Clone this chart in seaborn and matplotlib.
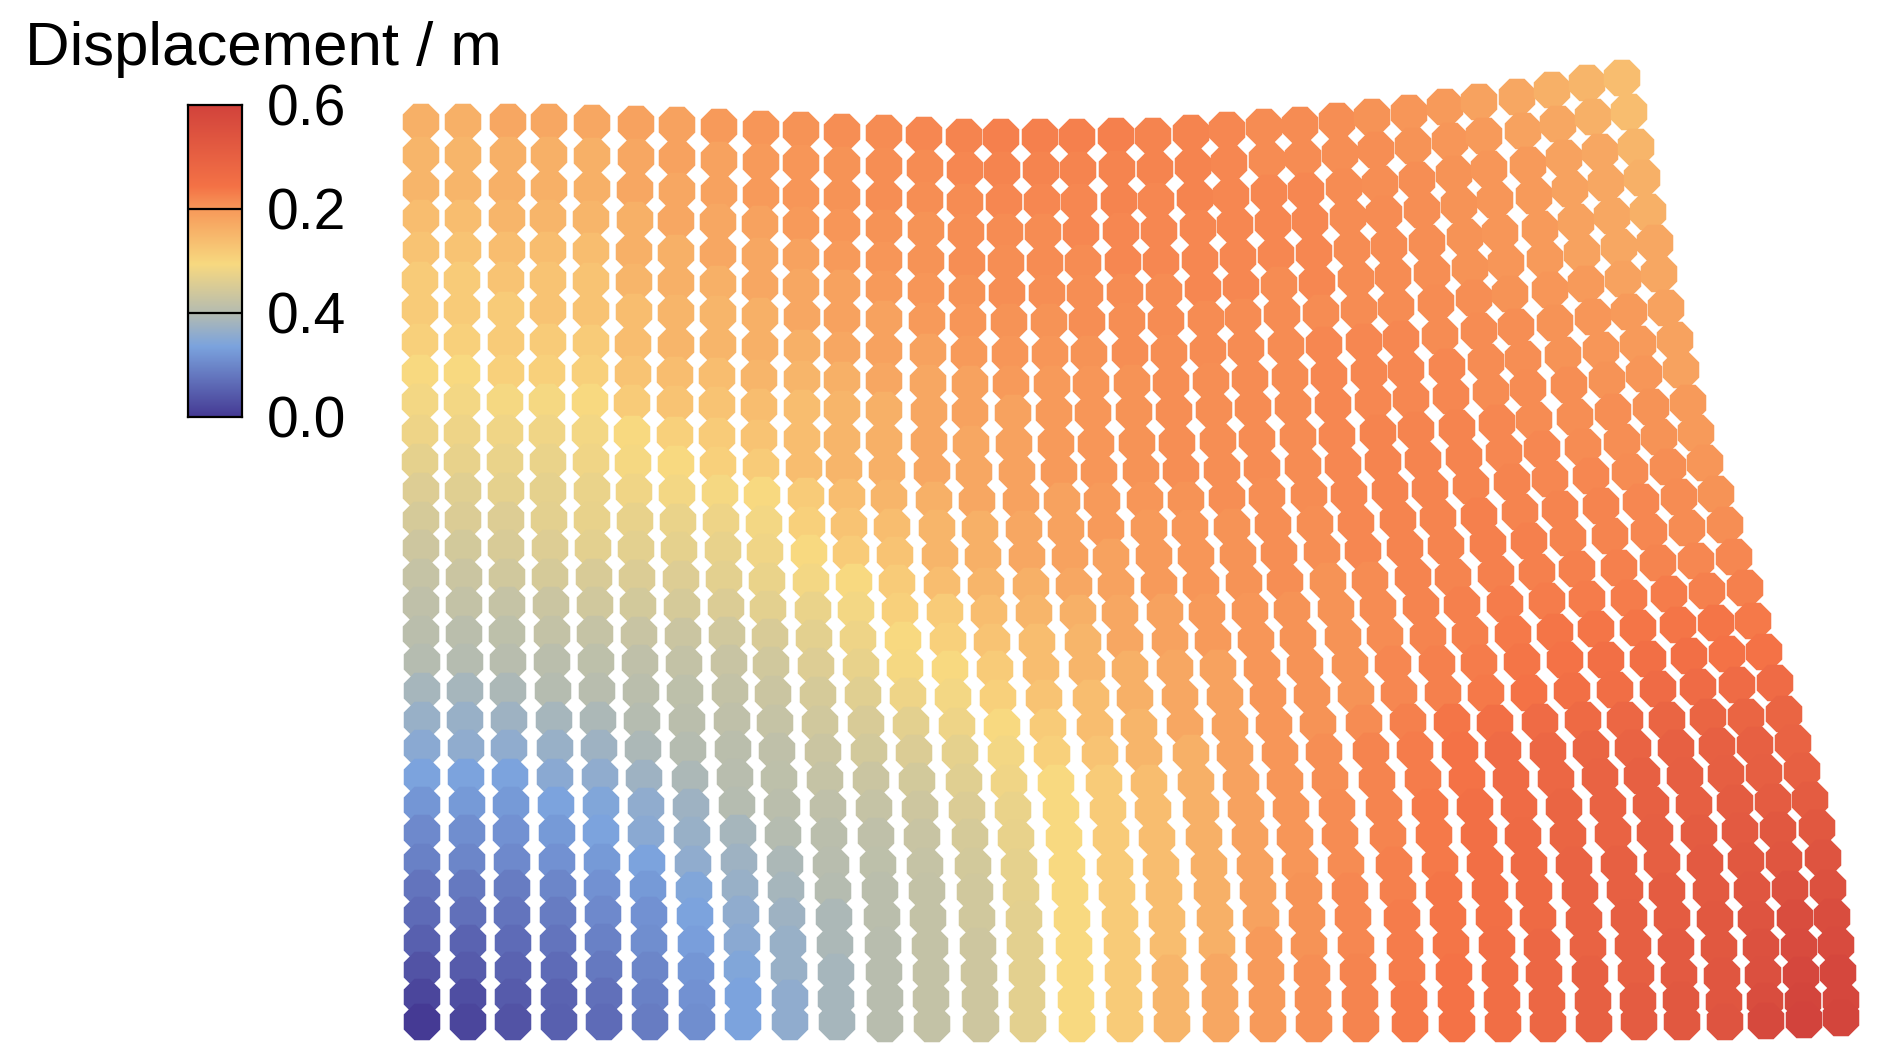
import matplotlib.pyplot as plt
from matplotlib.colors import LinearSegmentedColormap
import seaborn as sns
import pandas as pd
import numpy as np

# grid nodes, one list per row, 32 columns
x_rows = [
[421,463,508,549,592,636,677,719,761,801,842,884,924,964,1001,1040,1077,1116,1153,1191,1227,1264,1300,1337,1372,1409,1445,1479,1517,1552,1587,1622],
[421,463,508,549,592,636,677,719,761,801,842,884,925,965,1002,1041,1078,1117,1155,1193,1229,1267,1303,1340,1376,1413,1450,1484,1523,1558,1593,1629],
[421,463,507,549,592,635,677,719,761,801,842,884,925,965,1004,1042,1079,1119,1156,1195,1231,1269,1306,1344,1380,1417,1454,1489,1528,1564,1600,1636],
[421,463,507,548,591,635,676,718,760,801,842,884,926,966,1005,1043,1081,1121,1159,1198,1235,1273,1310,1348,1384,1422,1459,1495,1534,1570,1606,1642],
[421,463,507,548,591,634,676,718,760,801,842,884,926,967,1006,1045,1083,1123,1161,1200,1238,1276,1314,1352,1389,1427,1465,1500,1540,1576,1612,1648],
[420,462,506,548,591,634,676,718,760,801,842,884,926,967,1007,1047,1085,1125,1164,1203,1241,1279,1317,1356,1393,1432,1470,1506,1545,1582,1619,1655],
[420,462,506,548,591,634,676,718,760,802,842,884,927,968,1009,1049,1087,1127,1166,1206,1243,1282,1321,1359,1396,1436,1474,1510,1550,1586,1623,1659],
[420,462,506,548,591,633,676,718,760,802,842,884,928,969,1010,1050,1089,1130,1169,1208,1246,1286,1324,1364,1401,1440,1479,1516,1555,1593,1629,1666],
[420,462,506,547,590,633,675,717,759,802,842,884,928,970,1011,1052,1091,1132,1171,1211,1250,1290,1329,1369,1406,1447,1486,1523,1563,1601,1638,1675],
[420,462,505,547,590,632,675,717,759,802,842,884,929,970,1013,1054,1093,1134,1174,1214,1253,1293,1333,1373,1411,1451,1491,1528,1569,1607,1644,1681],
[420,462,505,547,590,632,675,717,759,802,842,884,929,971,1014,1056,1096,1137,1177,1218,1257,1298,1337,1378,1416,1457,1497,1534,1575,1613,1651,1688],
[420,462,505,548,591,633,676,718,761,804,844,887,932,974,1017,1059,1099,1141,1181,1222,1262,1303,1343,1383,1423,1464,1504,1542,1583,1622,1659,1696],
[421,463,506,548,592,634,677,720,762,806,847,889,934,977,1021,1062,1102,1145,1186,1227,1267,1309,1349,1390,1430,1471,1512,1550,1591,1630,1668,1705],
[421,463,506,549,592,635,678,721,764,807,849,892,937,980,1024,1066,1106,1149,1190,1232,1273,1315,1356,1398,1438,1479,1520,1560,1601,1641,1679,1716],
[421,463,506,550,593,636,679,723,765,809,851,895,940,983,1027,1070,1111,1154,1196,1238,1279,1322,1363,1405,1446,1488,1529,1568,1610,1649,1687,1725],
[421,464,507,550,594,637,681,724,767,811,854,897,942,986,1031,1074,1116,1159,1201,1244,1285,1328,1370,1413,1453,1496,1537,1577,1619,1658,1696,1734],
[421,464,507,551,595,638,682,726,768,813,856,900,945,989,1034,1078,1120,1165,1207,1250,1292,1336,1378,1421,1462,1505,1547,1587,1629,1669,1707,1745],
[421,464,507,552,595,639,683,727,770,814,858,903,948,992,1037,1083,1125,1170,1213,1256,1298,1343,1385,1428,1470,1513,1555,1596,1638,1678,1716,1753],
[422,465,508,552,596,640,684,729,771,816,861,905,950,995,1041,1087,1130,1175,1218,1262,1305,1350,1393,1437,1479,1522,1565,1606,1648,1689,1727,1764],
[422,465,508,553,597,641,685,730,773,818,863,908,953,998,1044,1091,1135,1180,1225,1268,1312,1356,1399,1443,1486,1529,1572,1615,1658,1698,1737,1775],
[422,465,509,554,598,642,687,732,775,820,866,911,957,1002,1048,1095,1139,1185,1230,1274,1318,1364,1408,1452,1495,1540,1583,1625,1667,1708,1746,1784],
[422,466,509,555,599,643,688,733,777,823,869,914,960,1006,1052,1100,1144,1191,1235,1280,1324,1371,1415,1460,1503,1548,1591,1633,1676,1717,1755,1793],
[422,466,510,555,600,644,690,735,779,825,871,917,964,1009,1056,1104,1149,1196,1241,1285,1330,1377,1423,1467,1511,1556,1600,1642,1685,1726,1764,1802],
[422,467,511,556,601,646,691,737,782,828,874,920,967,1013,1061,1108,1153,1201,1246,1291,1337,1384,1430,1475,1519,1564,1608,1651,1694,1735,1773,1810],
[422,467,511,557,601,646,692,738,783,829,876,922,970,1016,1064,1111,1157,1204,1250,1295,1340,1388,1434,1479,1523,1568,1613,1655,1699,1740,1778,1817],
[422,467,512,557,602,647,693,739,785,831,878,925,973,1019,1067,1115,1161,1209,1255,1300,1346,1394,1440,1485,1529,1574,1619,1662,1705,1746,1784,1823],
[422,467,512,558,602,648,694,740,786,833,880,927,975,1021,1070,1117,1164,1212,1258,1304,1350,1398,1444,1490,1534,1580,1625,1667,1711,1752,1790,1828],
[422,468,512,558,603,649,695,741,787,834,882,928,977,1024,1072,1120,1167,1215,1261,1307,1353,1402,1448,1494,1538,1584,1629,1672,1715,1756,1795,1832],
[422,468,513,558,603,649,696,742,788,835,883,930,978,1025,1074,1122,1168,1217,1264,1309,1356,1405,1451,1497,1542,1588,1633,1676,1719,1761,1799,1836],
[422,468,513,559,604,650,696,742,789,836,884,931,979,1027,1075,1123,1170,1219,1266,1312,1358,1407,1454,1500,1544,1590,1636,1679,1722,1763,1801,1838],
[422,468,513,559,604,650,697,743,790,836,885,931,980,1027,1076,1124,1171,1220,1267,1313,1360,1409,1456,1502,1547,1593,1638,1681,1724,1765,1803,1841],
[422,468,513,559,604,650,697,743,790,837,885,932,981,1028,1077,1125,1172,1221,1268,1314,1361,1410,1457,1503,1548,1594,1639,1682,1725,1766,1804,1841],
]

y_rows = [
[122,122,122,122,123,124,125,127,129,130,132,133,135,137,137,137,137,136,136,133,130,127,125,121,117,113,107,102,97,90,83,78],
[155,155,155,155,156,157,158,160,162,163,165,166,168,170,170,170,170,169,169,166,163,160,158,154,150,146,141,136,131,124,117,112],
[188,188,188,188,189,190,191,193,195,196,197,198,200,202,202,202,202,201,201,198,196,193,191,187,184,180,174,169,165,158,152,147],
[218,218,218,218,219,220,221,222,224,225,227,228,230,232,232,232,232,231,231,228,225,223,221,217,214,210,205,200,196,189,183,178],
[250,250,250,250,251,252,253,254,256,257,259,260,261,263,263,263,263,262,262,260,257,255,253,249,246,243,237,233,229,222,216,212],
[280,280,280,280,281,282,283,284,286,287,288,289,291,293,293,293,293,292,292,289,287,285,283,279,276,273,268,263,259,253,247,243],
[310,310,310,310,311,312,313,314,316,317,318,319,321,322,322,322,322,321,321,319,317,314,313,310,307,303,298,294,290,284,279,274],
[342,342,342,342,343,344,345,345,347,348,350,351,352,354,354,354,354,353,353,351,348,346,345,342,339,336,331,327,323,317,312,308],
[373,373,373,373,373,374,375,376,378,379,380,381,383,384,384,384,384,383,383,381,379,377,376,373,370,367,362,359,355,350,344,340],
[402,402,402,402,402,403,404,405,407,408,409,410,412,413,413,413,413,412,412,410,408,406,405,402,399,396,392,388,385,380,374,370],
[433,433,433,433,433,434,435,436,438,439,440,441,442,444,444,444,444,443,443,441,439,437,436,433,430,428,423,420,417,412,407,403],
[462,462,462,462,462,463,464,465,467,468,469,470,471,472,472,472,472,471,471,470,468,466,465,462,460,457,453,449,447,442,437,433],
[491,491,491,491,491,492,493,493,495,496,497,498,500,501,501,501,501,500,500,498,496,495,494,491,489,486,482,479,476,472,467,463],
[520,520,520,520,520,521,522,522,524,525,526,527,528,529,529,529,529,528,528,527,525,524,523,520,518,516,512,509,506,502,497,494],
[548,548,548,548,548,549,550,550,552,553,554,555,556,557,557,557,557,556,556,555,553,552,551,548,546,544,541,538,536,532,528,525],
[577,577,577,577,577,578,579,579,581,582,582,583,585,586,586,586,586,585,585,583,582,581,580,577,577,574,572,569,568,563,561,557],
[605,605,605,605,605,606,607,607,609,610,610,611,612,613,613,613,613,612,612,611,610,609,608,606,605,604,601,599,598,594,591,588],
[634,634,634,634,634,635,636,635,637,638,639,640,641,642,642,642,642,641,641,640,638,637,636,636,635,634,632,629,628,625,623,621],
[662,662,662,662,662,663,664,663,665,666,667,668,669,669,669,669,669,668,668,668,666,665,664,664,663,662,660,660,659,656,654,652],
[691,691,691,691,691,692,693,692,694,695,695,696,697,698,698,698,698,697,697,696,695,694,693,693,693,693,691,690,689,687,685,683],
[720,720,720,720,720,721,722,721,723,724,724,725,726,727,727,727,727,726,726,725,724,723,722,722,723,722,720,720,720,717,717,714],
[748,748,748,748,748,749,750,749,751,752,752,753,753,754,754,754,754,753,753,753,752,751,750,750,750,751,749,748,748,746,745,743],
[777,777,777,777,777,778,779,777,779,780,780,781,782,783,783,783,783,782,782,781,780,780,779,779,779,779,777,776,776,774,773,771],
[805,805,805,805,805,806,807,805,807,808,808,809,810,810,810,810,810,809,809,809,808,808,807,807,807,807,806,805,805,803,802,800],
[833,833,833,833,833,834,835,833,835,836,836,837,837,838,838,838,838,837,837,837,836,836,835,835,836,836,834,833,833,831,830,828],
[862,862,862,862,862,863,864,862,864,865,865,866,866,867,867,867,867,866,866,866,865,865,864,864,865,865,864,862,863,861,860,858],
[888,888,888,888,888,889,890,888,890,891,890,891,892,892,892,892,892,891,891,891,891,891,890,890,891,891,890,891,891,890,889,888],
[915,915,915,915,914,915,916,914,916,917,917,918,918,919,919,919,919,918,918,918,917,918,917,917,918,920,918,918,919,919,918,917],
[943,943,943,943,942,943,944,942,944,945,945,946,946,946,946,946,946,945,945,946,945,946,945,945,947,947,946,947,948,947,947,945],
[970,970,970,970,969,970,971,969,971,972,972,973,973,973,973,973,973,972,972,973,972,972,972,973,974,974,973,975,976,975,975,973],
[997,997,997,997,996,997,998,996,998,999,998,999,999,1000,1000,1000,1000,999,999,999,999,999,999,1000,1001,1001,1001,1000,1002,1001,1001,1000],
[1022,1022,1022,1022,1022,1022,1022,1022,1022,1022,1024,1024,1024,1024,1024,1024,1024,1024,1024,1024,1024,1024,1024,1024,1024,1024,1022,1022,1022,1021,1020,1018],
]

# displacement level per node, in percent of the colour scale
disp_rows = [
[64,64,65,65,65,66,66,67,68,69,70,71,72,73,74,74,74,74,73,73,72,71,71,70,69,68,67,66,65,64,63,62],
[63,63,64,64,64,65,66,66,67,68,69,70,71,72,73,73,73,73,73,73,72,71,71,70,70,69,68,67,66,65,64,62],
[63,63,64,64,64,65,65,66,67,68,69,70,70,71,72,72,72,73,72,73,72,72,72,71,70,70,69,68,67,66,65,63],
[62,62,63,63,63,64,65,65,66,67,68,69,69,70,71,71,72,72,72,72,72,72,72,71,71,70,69,68,67,66,65,64],
[61,61,62,62,62,64,64,65,65,66,67,68,69,70,70,71,71,72,72,72,72,72,72,71,71,70,69,68,67,66,65,64],
[60,60,61,61,61,63,64,64,65,65,66,67,68,69,70,70,70,71,71,72,72,71,72,71,71,70,69,68,67,66,65,65],
[60,60,60,61,61,62,63,63,64,65,66,66,67,68,69,69,70,70,71,71,71,71,71,71,71,71,70,69,68,67,66,65],
[59,59,60,60,60,62,63,63,64,64,65,66,66,67,68,68,69,70,70,71,71,71,72,72,72,71,71,70,69,68,67,66],
[58,58,59,59,59,61,62,62,63,63,64,65,65,66,67,67,68,69,70,70,71,71,72,72,72,72,71,70,69,68,67,66],
[56,56,57,57,58,60,61,61,62,62,63,64,65,66,66,67,68,69,70,70,71,71,72,72,72,72,71,71,70,69,68,66],
[54,54,55,55,56,58,59,60,61,62,63,64,65,65,66,67,68,69,70,70,71,71,72,73,73,73,72,71,70,70,69,67],
[51,52,53,53,55,57,58,59,60,62,63,64,65,65,66,67,68,69,70,70,71,71,72,73,73,73,72,72,71,70,69,67],
[48,49,51,51,53,55,56,57,58,60,62,63,64,65,66,66,67,68,69,70,70,71,72,73,73,73,73,72,72,71,70,68],
[45,47,48,50,52,52,53,54,56,59,61,62,63,64,65,66,67,67,68,69,70,70,72,73,73,74,73,73,73,72,71,69],
[42,44,46,48,50,50,51,52,55,58,60,61,63,64,65,66,66,67,68,69,70,70,72,73,73,74,74,73,73,72,71,70],
[39,41,43,45,46,47,48,50,53,56,58,60,62,63,64,65,66,67,68,69,70,69,71,73,73,74,74,74,74,73,72,72],
[37,38,39,41,43,44,45,47,50,53,56,59,60,62,63,64,65,66,67,68,69,69,71,73,74,75,75,75,75,75,74,74],
[35,35,36,38,39,40,41,43,46,50,54,58,59,61,62,63,65,66,67,68,69,69,71,73,74,76,77,77,77,77,77,76],
[33,33,34,35,36,37,38,40,43,48,52,57,58,60,62,63,64,65,66,68,69,69,72,74,75,77,78,79,79,79,78,78],
[31,31,32,33,34,35,36,38,41,45,49,54,56,59,61,62,64,65,66,68,69,69,72,74,76,78,79,80,81,81,81,81],
[29,29,30,31,32,33,35,37,39,43,46,50,54,58,60,62,63,65,66,68,69,71,74,77,79,81,82,83,84,84,84,84],
[27,28,28,29,30,32,33,35,37,41,44,47,51,56,59,61,63,64,66,68,70,73,75,78,81,83,84,85,86,86,86,85],
[25,25,25,27,28,30,32,34,36,39,41,44,49,55,58,60,62,64,66,68,70,73,75,78,81,83,85,86,87,87,87,86],
[22,23,23,25,26,28,30,33,35,37,39,42,47,53,58,60,62,64,66,68,71,73,76,79,81,84,85,86,87,88,88,88],
[19,20,21,23,25,27,29,31,33,35,37,40,45,52,58,60,62,64,66,68,71,73,76,79,82,84,85,87,88,89,90,90],
[17,18,19,21,23,25,28,30,32,34,36,39,44,51,58,60,62,64,66,68,71,74,76,79,82,85,86,87,89,90,91,92],
[14,15,16,18,21,23,26,29,31,33,35,38,43,51,58,60,62,64,66,69,72,74,77,79,82,85,86,88,89,91,93,93],
[12,13,14,16,19,21,25,28,30,32,35,38,43,50,58,60,62,64,66,69,72,75,77,79,82,85,87,88,90,92,95,95],
[9,10,12,14,17,20,24,27,29,32,34,38,42,50,58,60,62,64,67,69,72,75,77,80,83,85,87,89,90,93,96,96],
[6,8,10,12,15,18,22,26,29,31,34,38,42,50,58,60,63,65,67,70,73,75,78,80,83,86,87,89,91,94,98,98],
[3,5,8,10,13,17,21,25,28,31,34,38,42,50,58,60,63,65,67,70,73,76,78,80,83,86,88,90,91,95,99,98],
[0,3,6,9,12,16,20,25,28,31,34,38,42,50,58,60,63,65,67,70,73,76,78,80,83,86,88,90,92,97,100,99],
]

# colour scale: same colours, placed by level on the dots and by height on the bar
scale_colors = ['#453a94', '#7ba3de', '#b5bcb0', '#f8d980', '#f79a5a', '#f47246', '#d2433c']
dot_stops = [0, 0.25, 0.33, 0.58, 0.67, 0.78, 1]
bar_stops = [0, 0.225, 0.335, 0.49, 0.665, 0.74, 1]
bar_labels = ['0.0', '0.4', '0.2', '0.6']
title = 'Displacement / m'

df = pd.DataFrame({
    'x': np.array(x_rows).ravel(),
    'y': np.array(y_rows).ravel(),
    'disp': np.array(disp_rows).ravel(),
})

sns.set_style('white')
plt.rcParams['font.family'] = ['Liberation Sans', 'DejaVu Sans']

dot_cmap = LinearSegmentedColormap.from_list('dots', list(zip(dot_stops, scale_colors)))
bar_cmap = LinearSegmentedColormap.from_list('bar', list(zip(bar_stops, scale_colors)))

fig = plt.figure(figsize=(18.92, 10.63), dpi=100)
ax = fig.add_axes([0, 0, 1, 1])
sns.scatterplot(data=df, x='x', y='y', hue='disp', palette=dot_cmap, hue_norm=(0, 100),
                marker='8', s=810, linewidth=0, legend=False, ax=ax)
ax.set_xlim(0, 1892)
ax.set_ylim(1063, 0)
ax.axis('off')
ax.text(25, 65, title, fontsize=44.5, color='black', va='baseline')

# colour bar
cax = fig.add_axes([188 / 1892, 1 - 417 / 1063, 54 / 1892, 312 / 1063])
gradient = np.linspace(0, 1, 256).reshape(-1, 1)
cax.imshow(gradient, cmap=bar_cmap, origin='lower', aspect='auto', extent=[0, 1, 0, 1])
cax.set_xticks([])
cax.set_yticks([0, 1 / 3, 2 / 3, 1])
cax.set_yticklabels(bar_labels, fontsize=41, color='black')
cax.yaxis.tick_right()
cax.tick_params(axis='y', length=0, pad=18)
for level in [1 / 3, 2 / 3]:
    cax.axhline(level, color='black', lw=1.6)
for side in cax.spines.values():
    side.set_visible(True)
    side.set_color('black')
    side.set_linewidth(1.6)

fig.savefig('out.png', dpi=100)
